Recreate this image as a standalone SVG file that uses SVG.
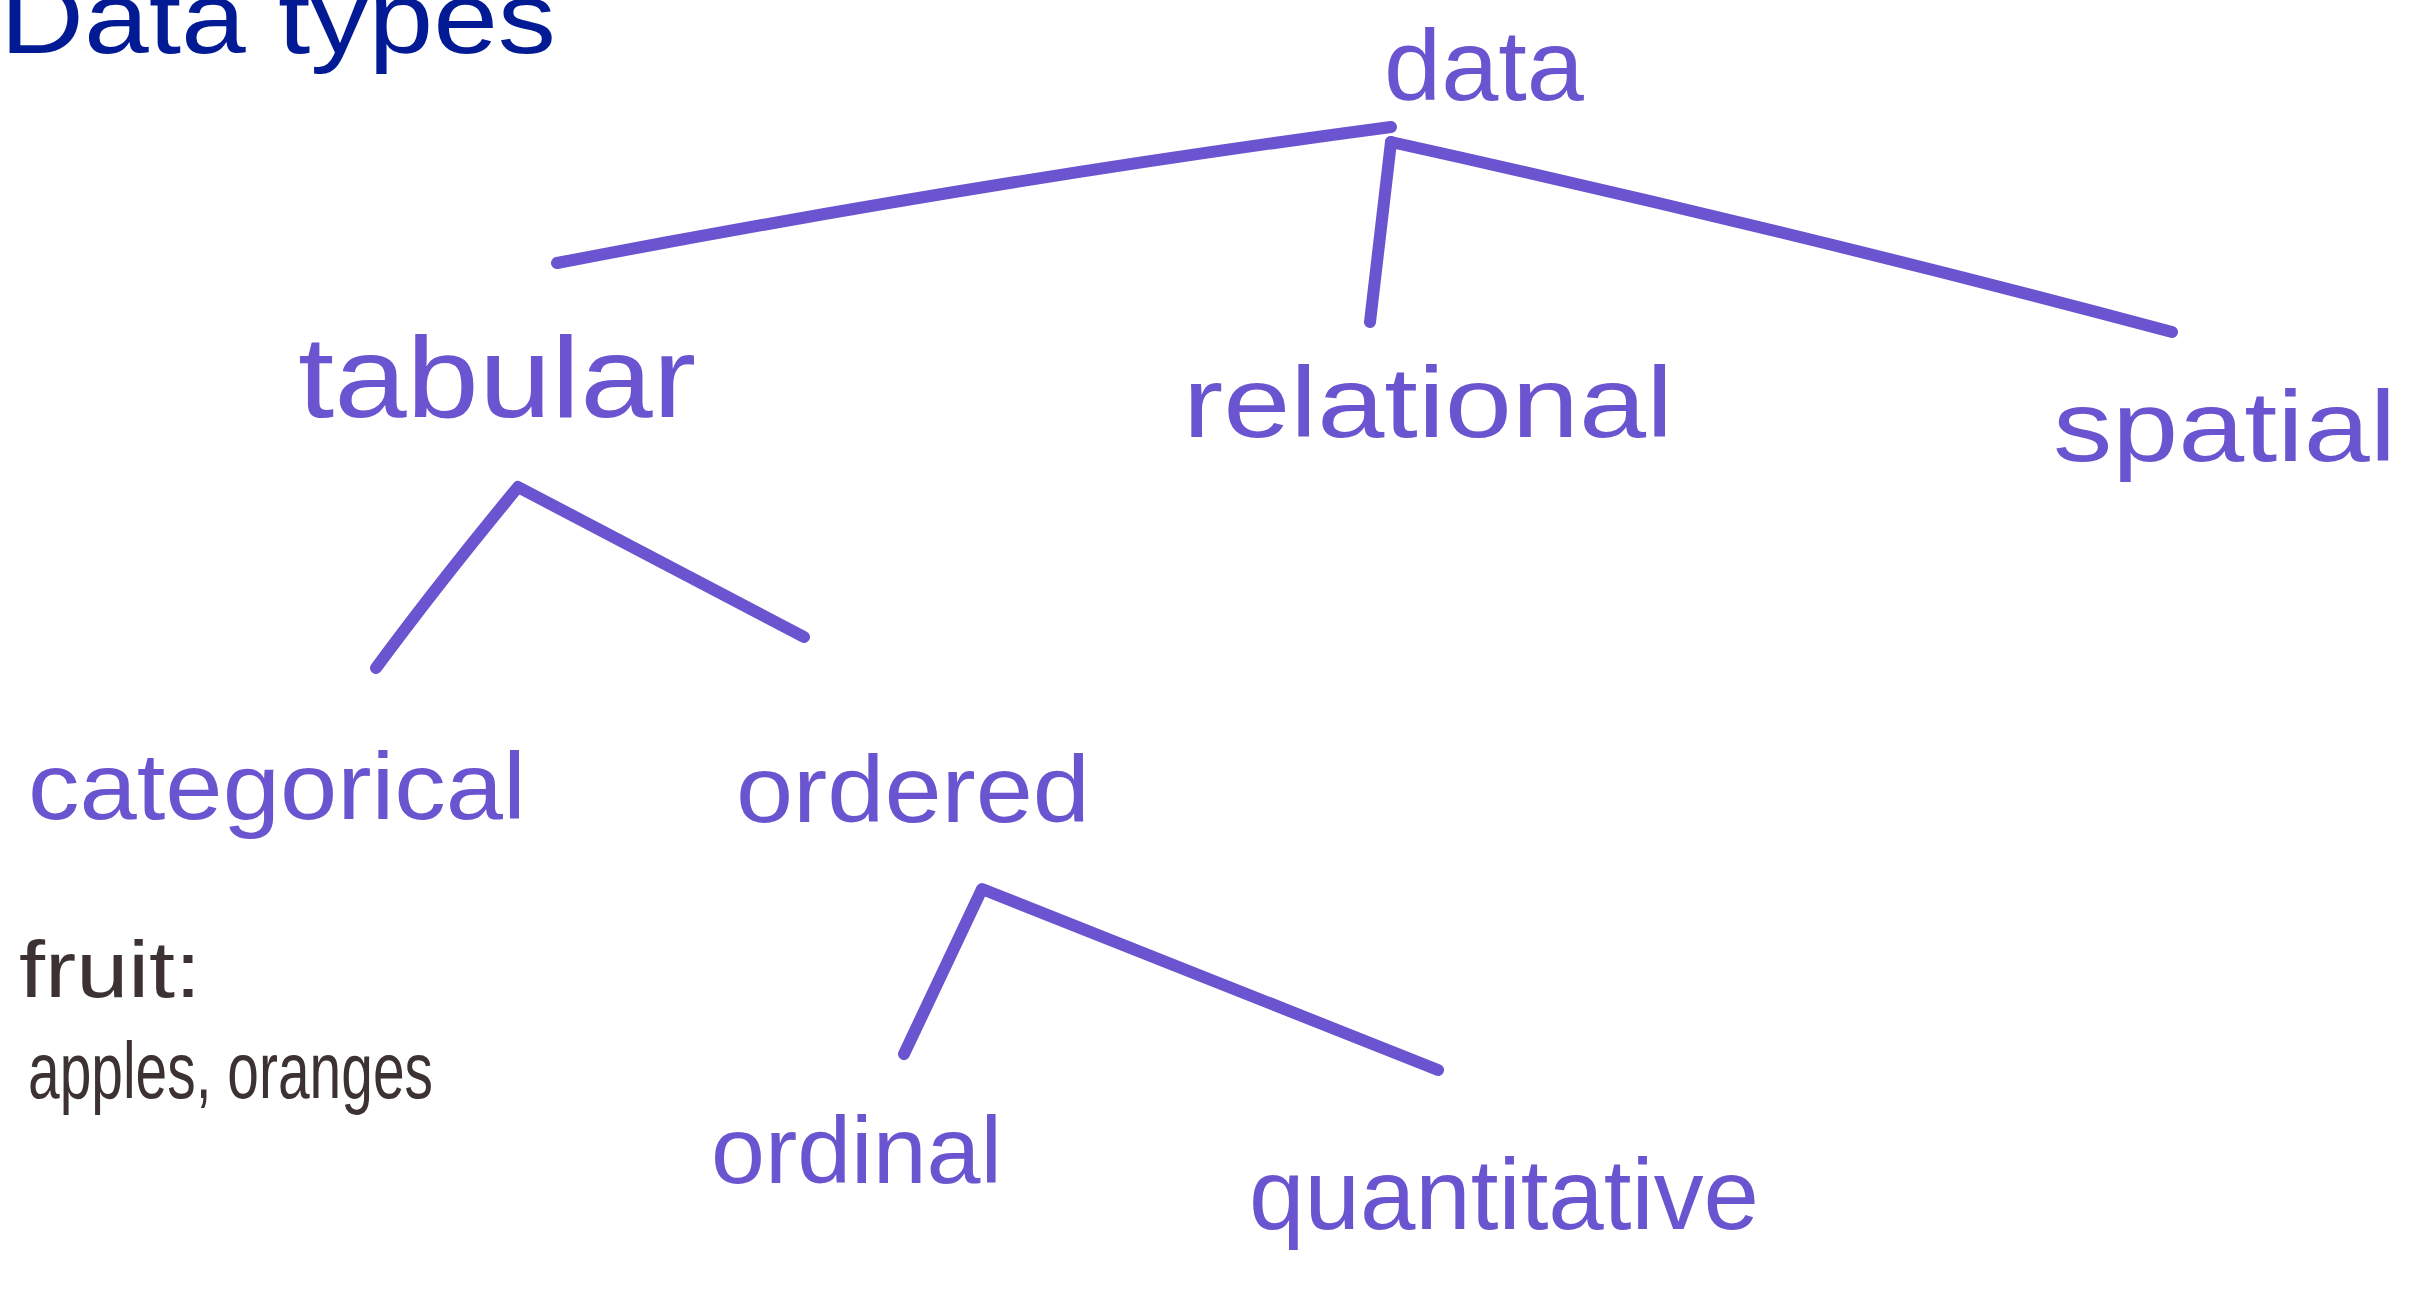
<svg xmlns="http://www.w3.org/2000/svg" width="2424" height="1289" viewBox="0 0 2424 1289">
<style>
.hw{font-family:"Liberation Sans","DejaVu Sans",sans-serif;fill:#6a54cf;}
.ink{font-family:"Liberation Sans","DejaVu Sans",sans-serif;fill:#3d3232;}
.title{font-family:"Liberation Sans","DejaVu Sans",sans-serif;fill:#021a94;}
.edge{fill:none;stroke:#6a54cf;stroke-width:12;stroke-linecap:round;stroke-linejoin:round;}
</style>
<rect width="2424" height="1289" fill="#ffffff"/>
<text class="title" x="0" y="53" font-size="102" textLength="556" lengthAdjust="spacingAndGlyphs">Data types</text>
<g id="connectors">
<path class="edge" d="M557,263 Q990,180 1391,127"/>
<path class="edge" d="M1391,142 L1370,322"/>
<path class="edge" d="M1391,142 Q1790,230 2172,332"/>
<path class="edge" d="M376,668 Q438,584 518,487 L804,637"/>
<path class="edge" d="M904,1054 L982,889 L1438,1070"/>
</g>
<g id="node-data"><text class="hw" x="1384" y="100" font-size="100" textLength="200" lengthAdjust="spacingAndGlyphs">data</text></g>
<g id="node-tabular"><text class="hw" x="298" y="417" font-size="115" textLength="398" lengthAdjust="spacingAndGlyphs">tabular</text></g>
<g id="node-relational"><text class="hw" x="1183" y="437" font-size="100" textLength="490" lengthAdjust="spacingAndGlyphs">relational</text></g>
<g id="node-spatial"><text class="hw" x="2053" y="461" font-size="100" textLength="343" lengthAdjust="spacingAndGlyphs">spatial</text></g>
<g id="node-categorical"><text class="hw" x="28" y="819" font-size="95" textLength="498" lengthAdjust="spacingAndGlyphs">categorical</text></g>
<g id="node-ordered"><text class="hw" x="736" y="822" font-size="95" textLength="354" lengthAdjust="spacingAndGlyphs">ordered</text></g>
<g id="note-fruit">
<text class="ink" x="19" y="997" font-size="80" textLength="182" lengthAdjust="spacingAndGlyphs">fruit:</text>
<text class="ink" x="28" y="1098" font-size="80" textLength="405" lengthAdjust="spacingAndGlyphs">apples, oranges</text>
</g>
<g id="node-ordinal"><text class="hw" x="711" y="1183" font-size="95" textLength="291" lengthAdjust="spacingAndGlyphs">ordinal</text></g>
<g id="node-quantitative"><text class="hw" x="1249" y="1229" font-size="100" textLength="510" lengthAdjust="spacingAndGlyphs">quantitative</text></g>
</svg>
